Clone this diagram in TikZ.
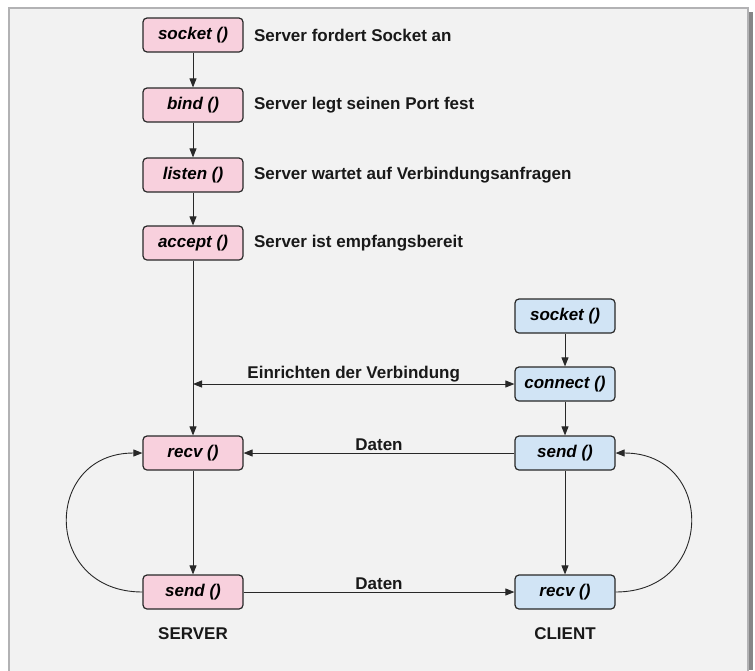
\documentclass[tikz,border=0pt]{standalone}
\usepackage{fontspec}
\setmainfont{Liberation Sans}
\usetikzlibrary{arrows.meta,positioning}
\definecolor{srvpink}{RGB}{248,208,221}
\definecolor{cliblue}{RGB}{209,228,245}
\definecolor{panel}{RGB}{242,242,242}
\definecolor{rim}{RGB}{178,178,180}
\definecolor{ink}{RGB}{40,40,40}
\begin{document}
\begin{tikzpicture}[x=1pt,y=-1pt,
    call/.style={draw=ink,line width=1.2pt,rounded corners=4pt,minimum width=100pt,minimum height=34pt,inner sep=0pt,font=\fontsize{17}{20}\selectfont\bfseries\itshape},
    srv/.style={call,fill=srvpink},
    cli/.style={call,fill=cliblue},
    note/.style={font=\fontsize{17}{20}\selectfont\bfseries,text=black!90},
    flow/.style={draw=ink,line width=0.9pt,-{Triangle[length=9pt,width=7pt]}}]
    \useasboundingbox (0,0) rectangle (755,670);
    \fill[white] (0,0) rectangle (755,670);
    \fill[rim!75!black] (748,12) rectangle (753,670);
    \draw[rim,fill=panel,line width=1.5pt] (9,8) rectangle (748,690);

    \node[srv] (ssock) at (193,35) {socket ()};
    \node[srv] (sbind) at (193,105) {bind ()};
    \node[srv] (slist) at (193,175) {listen ()};
    \node[srv] (sacc) at (193,243) {accept ()};
    \node[srv] (srecv) at (193,453) {recv ()};
    \node[srv] (ssend) at (193,592) {send ()};
    \node[cli] (csock) at (565,316) {socket ()};
    \node[cli] (cconn) at (565,384) {connect ()};
    \node[cli] (csend) at (565,453) {send ()};
    \node[cli] (crecv) at (565,592) {recv ()};

    \node[note,right=7pt of ssock] (tsock) {Server fordert Socket an};
    \node[note,right=7pt of sbind] (tbind) {Server legt seinen Port fest};
    \node[note,right=7pt of slist] (tlist) {Server wartet auf Verbindungsanfragen};
    \node[note,right=7pt of sacc] (tacc) {Server ist empfangsbereit};
    \node[note] (srvname) at (193,634) {SERVER};
    \node[note] (cliname) at (565,634) {CLIENT};

    \coordinate (join) at (sacc.south |- cconn.west);

    \draw[flow] (ssock) -- (sbind);
    \draw[flow] (sbind) -- (slist);
    \draw[flow] (slist) -- (sacc);
    \draw[flow] (sacc) -- (srecv);
    \draw[flow] (srecv) -- (ssend);
    \draw[flow] (csock) -- (cconn);
    \draw[flow] (cconn) -- (csend);
    \draw[flow] (csend) -- (crecv);
    \draw[flow,{Triangle[length=9pt,width=7pt]}-{Triangle[length=9pt,width=7pt]}] (join) -- (cconn.west) node[note,midway,above=-2pt] {Einrichten der Verbindung};
    \draw[flow] (csend) -- (srecv) node[note,midway,above=-1pt] {Daten};
    \draw[flow] (ssend) -- (crecv) node[note,midway,above=-1pt] {Daten};
    \draw[flow] (ssend.west) .. controls +(-100,0) and +(-100,0) .. (srecv.west);
    \draw[flow] (crecv.east) .. controls +(100,0) and +(100,0) .. (csend.east);
\end{tikzpicture}
\end{document}
